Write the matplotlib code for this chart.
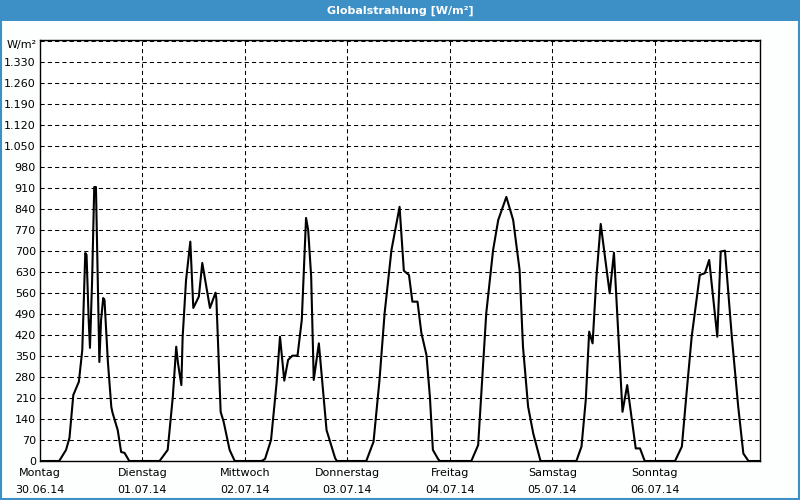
import matplotlib
matplotlib.use('Agg')
import matplotlib.pyplot as plt
from matplotlib.patches import Rectangle
from matplotlib.ticker import FuncFormatter, MultipleLocator

# ==========================================================
# DATA (hours within each day, W/m²)
# ==========================================================

day_names = ['Montag', 'Dienstag', 'Mittwoch', 'Donnerstag', 'Freitag', 'Samstag', 'Sonntag']
day_dates = ['30.06.14', '01.07.14', '02.07.14', '03.07.14', '04.07.14', '05.07.14', '06.07.14']

mo_h = [0, 4.5, 6.1, 6.9, 7.8, 9.1, 9.9, 10.6, 10.9, 11.4, 11.7, 12.2, 12.7, 13.1, 13.5, 13.9,
        14.3, 14.8, 15.1, 15.9, 16.7, 17.0, 18.2, 19.0, 19.8, 20.9, 24]
mo_v = [0, 0, 37, 77, 220, 264, 370, 693, 687, 470, 377, 600, 913, 913, 627, 330,
        470, 543, 537, 330, 180, 160, 103, 30, 27, 0, 0]

di_h = [0, 4.0, 5.9, 7.1, 7.9, 8.3, 9.1, 9.4, 10.2, 11.2, 11.9, 13.2, 14.0, 15.8, 17.1, 17.3,
        18.3, 19.0, 20.4, 21.6, 24]
di_v = [0, 0, 37, 214, 381, 327, 253, 413, 603, 731, 510, 548, 660, 510, 561, 540,
        164, 131, 37, 0, 0]

mi_h = [0, 3.9, 4.7, 6.1, 7.4, 8.2, 9.2, 10.1, 11.1, 12.3, 13.3, 14.3, 14.8, 15.5, 16.1, 17.3,
        19.1, 21.1, 21.5, 24]
mi_v = [0, 0, 7, 70, 260, 414, 268, 337, 351, 351, 470, 810, 770, 614, 270, 392,
        103, 10, 0, 0]

do_h = [0, 4.4, 6.1, 7.5, 8.7, 10.3, 12.2, 13.2, 14.4, 15.2, 16.4, 17.3, 18.5, 19.3, 20.0,
        21.2, 21.6, 24]
do_v = [0, 0, 64, 270, 493, 703, 847, 634, 620, 531, 531, 427, 353, 214, 37,
        7, 0, 0]

fr_h = [0, 5.0, 6.6, 8.5, 10.1, 11.3, 13.2, 14.8, 16.3, 17.1, 18.3, 19.5, 21.2, 24]
fr_v = [0, 0, 53, 493, 703, 803, 880, 803, 637, 381, 181, 92, 0, 0]

sa_h = [0, 5.6, 6.8, 7.8, 8.6, 9.4, 10.3, 11.3, 13.4, 14.4, 16.4, 17.5, 19.5, 20.5, 21.6, 24]
sa_v = [0, 0, 48, 203, 431, 392, 614, 790, 559, 694, 164, 253, 42, 42, 0, 0]

so_h = [0, 4.7, 6.3, 7.4, 8.6, 10.5, 11.7, 12.7, 14.6, 15.4, 16.4, 18.0, 19.5, 20.7, 21.9, 24.6]
so_v = [0, 0, 48, 226, 414, 620, 626, 670, 414, 698, 701, 414, 181, 25, 0, 0]

days_h = [mo_h, di_h, mi_h, do_h, fr_h, sa_h, so_h]
days_v = [mo_v, di_v, mi_v, do_v, fr_v, sa_v, so_v]

hours = []
values = []
for d in range(7):
    for h, v in zip(days_h[d], days_v[d]):
        hours.append(d * 24 + h)
        values.append(v)

# ==========================================================
# FIGURE
# ==========================================================

blue = '#3d90c6'

fig = plt.figure(figsize=(8, 5), dpi=100, facecolor='#fcfffd')

# title bar and window frame
fig.patches.append(Rectangle((0, 1 - 21 / 500), 1, 21 / 500,
                             transform=fig.transFigure, facecolor=blue,
                             edgecolor='none', zorder=0))
fig.patches.append(Rectangle((0.001, 0.002), 0.998, 0.99,
                             transform=fig.transFigure, facecolor='none',
                             edgecolor=blue, linewidth=1.5, zorder=0))

fig.text(0.5, 1 - 10.5 / 500, 'Globalstrahlung [W/m²]', color='white',
         fontsize=8, fontweight='bold', ha='center', va='center')

ax = fig.add_axes([40 / 800, 1 - 461 / 500, 720 / 800, 421 / 500])
ax.set_facecolor('white')

ax.plot(hours, values, color='black', linewidth=1.5, zorder=3)

ax.set_xlim(0, 168.6)
ax.set_ylim(0, 1403)

ax.yaxis.set_major_locator(MultipleLocator(70))
ax.yaxis.set_major_formatter(
    FuncFormatter(lambda v, p: f'{int(v):,}'.replace(',', '.') if v <= 1330 else ''))
ax.set_xticks([d * 24 for d in range(1, 7)])
ax.set_xticklabels([])

ax.tick_params(axis='both', length=0, labelsize=8, pad=4)
ax.tick_params(axis='y', pad=3)

ax.grid(True, color='black', linestyle=(0, (4, 3)), linewidth=0.75)

for s in ax.spines.values():
    s.set_linewidth(1.0)
    s.set_color('black')

ax.text(-0.005, 1403 - 18, 'W/m²', transform=ax.get_yaxis_transform(),
        ha='right', va='center', fontsize=8)

for d in range(7):
    ax.text(d * 24, -12 / 0.3, day_names[d], ha='center', va='center', fontsize=8)
    ax.text(d * 24, -29 / 0.3, day_dates[d], ha='center', va='center', fontsize=8)

plt.savefig('out.png', dpi=100, facecolor=fig.get_facecolor())
